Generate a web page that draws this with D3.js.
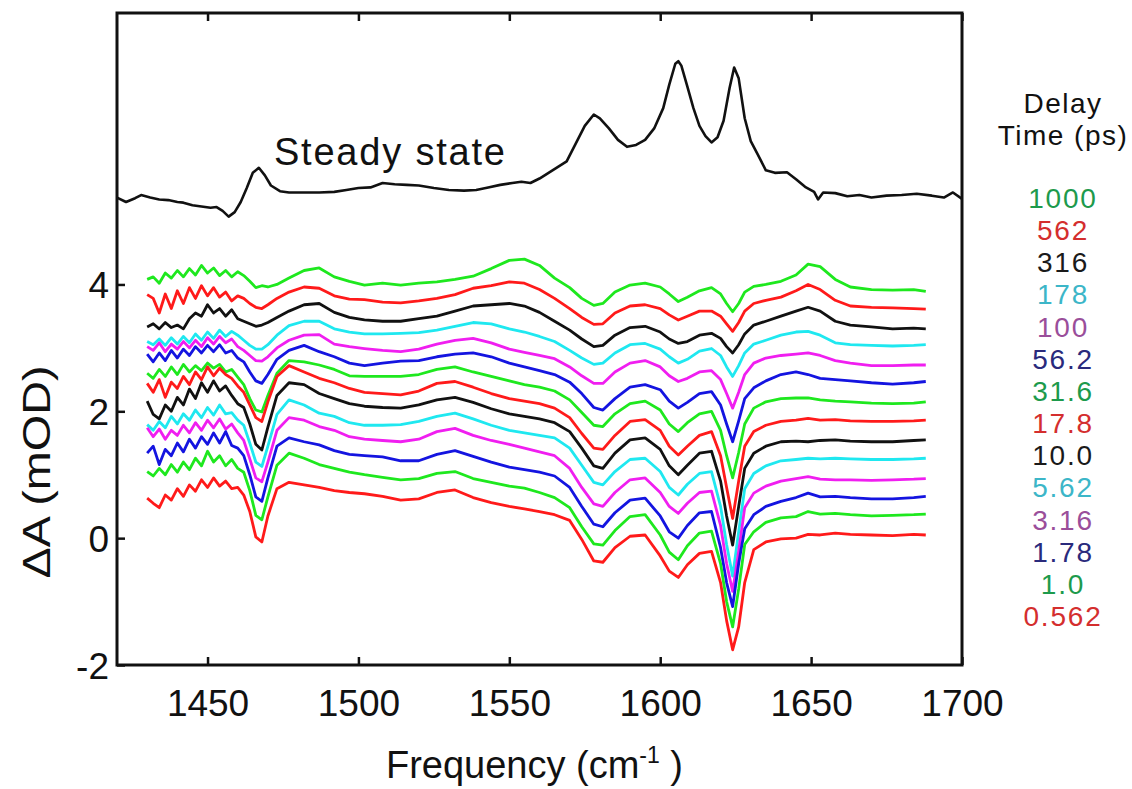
<!DOCTYPE html>
<html>
<head>
<meta charset="utf-8">
<script src="https://cdn.jsdelivr.net/npm/d3@7"></script>
<style>
  body { margin: 0; background: #fff; }
  svg text { font-family: "Liberation Sans", Arial, sans-serif; fill: #111; }
</style>
</head>
<body>
<svg id="chart" width="1132" height="789"></svg>
<script>
// frequency grid shared by the transient spectra (cm-1)
const freq = [1430,1432,1434,1436,1438,1440,1442,1444,1446,1448,1450,1452,1454,1456,1458,1460,1462,1464,1466,1468,1470,1473,1477,1482,1487,1492,1497,1502,1508,1514,1520,1526,1532,1538,1544,1550,1555,1560,1565,1570,1574,1578,1581,1585,1590,1595,1600,1603,1606,1609,1613,1617,1620,1622,1624,1626,1628,1631,1635,1640,1645,1649,1653,1658,1663,1670,1677,1684,1688];

// delay times (ps), top trace first
const delays = ["1000","562","316","178","100","56.2","31.6","17.8","10.0","5.62","3.16","1.78","1.0","0.562"];

// plotted dA (mOD, traces offset as in the figure)
const t1000 = [4.08,4.12,4.02,4.18,4.10,4.22,4.12,4.25,4.15,4.30,4.18,4.26,4.14,4.22,4.12,4.20,4.14,4.05,3.95,3.98,3.96,4.00,4.10,4.22,4.26,4.12,4.05,3.99,4.02,3.99,4.02,4.04,4.08,4.13,4.25,4.38,4.40,4.30,4.10,3.95,3.78,3.67,3.70,3.88,3.99,4.02,3.96,3.85,3.73,3.80,3.90,3.95,3.85,3.70,3.57,3.70,3.88,3.97,4.00,4.05,4.15,4.32,4.28,4.08,3.96,3.92,3.91,3.92,3.89];
const t562 = [3.84,3.78,3.55,3.85,3.62,3.90,3.70,3.95,3.78,3.98,3.82,3.95,3.80,3.88,3.74,3.82,3.78,3.70,3.64,3.62,3.68,3.78,3.88,3.96,3.94,3.82,3.77,3.76,3.72,3.71,3.74,3.78,3.84,3.94,3.98,4.04,4.02,3.92,3.78,3.62,3.48,3.37,3.38,3.55,3.66,3.68,3.62,3.52,3.44,3.50,3.58,3.58,3.50,3.38,3.26,3.40,3.58,3.70,3.75,3.80,3.90,4.00,3.92,3.75,3.66,3.64,3.63,3.62,3.61];
const t316 = [3.33,3.38,3.30,3.40,3.32,3.36,3.30,3.46,3.55,3.50,3.68,3.55,3.62,3.50,3.60,3.46,3.42,3.38,3.34,3.36,3.40,3.48,3.58,3.68,3.70,3.56,3.48,3.44,3.42,3.42,3.46,3.50,3.58,3.66,3.68,3.70,3.66,3.56,3.42,3.28,3.14,3.02,3.04,3.20,3.32,3.34,3.25,3.14,3.07,3.10,3.20,3.23,3.15,3.02,2.92,3.05,3.22,3.36,3.42,3.50,3.58,3.64,3.58,3.42,3.36,3.33,3.30,3.31,3.30];
const t178 = [3.10,3.05,3.14,3.04,3.16,3.06,3.18,3.08,3.22,3.12,3.25,3.15,3.28,3.18,3.26,3.20,3.12,3.04,2.98,2.98,3.05,3.20,3.35,3.42,3.42,3.30,3.25,3.22,3.22,3.23,3.24,3.28,3.34,3.40,3.38,3.30,3.25,3.18,3.10,2.96,2.84,2.74,2.76,2.92,3.05,3.07,2.98,2.86,2.76,2.82,2.95,2.99,2.88,2.70,2.55,2.72,2.92,3.06,3.12,3.20,3.25,3.26,3.20,3.08,3.05,3.04,3.03,3.04,3.05];
const t100 = [3.02,2.96,3.08,2.94,3.06,2.98,3.10,3.00,3.12,3.02,3.16,3.06,3.18,3.08,3.14,3.02,2.96,2.88,2.80,2.79,2.86,3.00,3.12,3.20,3.21,3.06,3.02,2.99,2.96,2.94,2.98,3.06,3.12,3.15,3.08,2.98,2.93,2.88,2.83,2.70,2.56,2.44,2.44,2.62,2.76,2.80,2.70,2.56,2.47,2.52,2.62,2.64,2.50,2.28,2.05,2.30,2.58,2.76,2.84,2.88,2.90,2.92,2.88,2.80,2.76,2.72,2.72,2.73,2.73];
const t56 = [2.90,2.78,2.92,2.80,2.96,2.84,2.98,2.88,3.02,2.92,3.04,2.94,3.05,2.92,2.96,2.84,2.78,2.62,2.48,2.44,2.58,2.82,2.96,3.04,2.94,2.86,2.76,2.72,2.76,2.79,2.80,2.86,2.90,2.92,2.86,2.76,2.70,2.64,2.58,2.46,2.28,2.06,2.02,2.20,2.38,2.42,2.34,2.16,2.05,2.14,2.28,2.31,2.10,1.80,1.52,1.85,2.20,2.37,2.48,2.58,2.62,2.58,2.52,2.50,2.48,2.45,2.43,2.45,2.47];
const t31 = [2.60,2.52,2.66,2.55,2.70,2.58,2.74,2.62,2.72,2.64,2.76,2.68,2.74,2.62,2.66,2.54,2.42,2.20,2.02,1.99,2.25,2.60,2.80,2.78,2.73,2.66,2.56,2.55,2.55,2.55,2.58,2.66,2.70,2.62,2.55,2.48,2.42,2.38,2.32,2.18,1.98,1.78,1.76,1.96,2.12,2.16,2.02,1.80,1.68,1.82,1.96,2.00,1.70,1.30,0.95,1.35,1.80,2.05,2.15,2.20,2.21,2.21,2.18,2.16,2.15,2.13,2.12,2.13,2.15];
const t17 = [2.44,2.30,2.50,2.22,2.46,2.36,2.55,2.42,2.62,2.50,2.70,2.56,2.68,2.58,2.52,2.40,2.30,2.10,1.90,1.84,2.15,2.55,2.72,2.62,2.52,2.45,2.36,2.30,2.28,2.26,2.32,2.44,2.47,2.38,2.28,2.20,2.16,2.12,2.05,1.90,1.65,1.42,1.40,1.62,1.84,1.87,1.70,1.45,1.31,1.45,1.62,1.68,1.30,0.80,0.31,0.90,1.45,1.68,1.78,1.84,1.86,1.89,1.86,1.87,1.85,1.84,1.84,1.85,1.86];
const t10 = [2.16,1.95,1.88,2.10,2.00,2.22,2.10,2.35,2.20,2.45,2.30,2.48,2.32,2.40,2.25,2.12,2.06,1.80,1.48,1.39,1.75,2.25,2.45,2.42,2.28,2.20,2.12,2.08,2.06,2.05,2.10,2.18,2.22,2.14,2.04,1.96,1.92,1.88,1.82,1.68,1.42,1.14,1.10,1.34,1.55,1.58,1.40,1.14,1.00,1.15,1.34,1.37,0.90,0.35,-0.11,0.50,1.10,1.34,1.45,1.52,1.53,1.52,1.54,1.55,1.53,1.52,1.52,1.54,1.55];
const t5_62 = [1.79,1.70,1.84,1.74,1.92,1.80,1.96,1.86,2.02,1.90,2.06,1.94,2.10,1.96,1.98,1.86,1.78,1.50,1.20,1.13,1.45,1.95,2.18,2.10,1.97,1.92,1.82,1.78,1.78,1.79,1.84,1.92,1.97,1.88,1.78,1.70,1.66,1.62,1.58,1.42,1.15,0.88,0.84,1.05,1.24,1.26,1.05,0.80,0.68,0.85,1.02,1.05,0.50,-0.10,-0.60,0.10,0.78,1.02,1.14,1.22,1.24,1.26,1.25,1.26,1.25,1.24,1.24,1.25,1.26];
const t3_16 = [1.74,1.60,1.72,1.56,1.70,1.62,1.78,1.66,1.82,1.70,1.86,1.74,1.88,1.72,1.80,1.66,1.54,1.25,0.95,0.89,1.20,1.70,1.90,1.86,1.76,1.70,1.60,1.56,1.54,1.52,1.56,1.68,1.73,1.62,1.54,1.48,1.42,1.36,1.30,1.10,0.80,0.54,0.50,0.72,0.92,0.95,0.72,0.50,0.39,0.55,0.72,0.74,0.20,-0.40,-0.84,-0.20,0.48,0.71,0.82,0.90,0.94,0.97,0.93,0.92,0.92,0.91,0.92,0.93,0.94];
const t1_78 = [1.34,1.45,1.16,1.40,1.30,1.50,1.36,1.56,1.42,1.60,1.48,1.66,1.50,1.68,1.46,1.42,1.30,1.00,0.65,0.58,0.95,1.45,1.58,1.52,1.47,1.38,1.32,1.30,1.28,1.22,1.22,1.32,1.38,1.29,1.20,1.12,1.08,1.04,0.98,0.80,0.50,0.22,0.18,0.40,0.60,0.63,0.35,0.10,0.00,0.20,0.40,0.42,-0.15,-0.70,-1.08,-0.40,0.15,0.37,0.50,0.58,0.64,0.71,0.65,0.66,0.64,0.62,0.62,0.64,0.66];
const t1_0 = [1.05,0.98,1.10,1.00,1.16,1.04,1.20,1.08,1.26,1.14,1.37,1.20,1.30,1.14,1.24,1.10,1.04,0.75,0.36,0.29,0.65,1.15,1.34,1.26,1.16,1.10,1.04,1.00,0.96,0.92,0.94,1.02,1.05,0.94,0.88,0.82,0.79,0.72,0.64,0.48,0.18,-0.09,-0.11,0.12,0.34,0.37,0.05,-0.22,-0.34,-0.12,0.08,0.11,-0.40,-1.00,-1.40,-0.80,-0.10,0.10,0.25,0.32,0.34,0.42,0.38,0.39,0.37,0.35,0.36,0.37,0.38];
const t0_562 = [0.63,0.55,0.48,0.68,0.60,0.78,0.66,0.84,0.74,0.92,0.80,0.95,0.82,0.90,0.78,0.80,0.68,0.42,0.02,-0.06,0.35,0.78,0.88,0.84,0.80,0.75,0.72,0.70,0.66,0.60,0.62,0.72,0.76,0.64,0.56,0.50,0.46,0.42,0.37,0.28,-0.02,-0.36,-0.38,-0.15,0.03,0.05,-0.28,-0.52,-0.62,-0.42,-0.24,-0.21,-0.70,-1.30,-1.76,-1.40,-0.70,-0.18,-0.06,-0.01,0.00,0.06,0.05,0.08,0.06,0.05,0.04,0.06,0.05];

// steady-state absorption, scaled onto the same axis
const steadyFreq = [1420,1423,1426,1428,1431,1434,1437,1440,1442,1445,1448,1451,1453,1455,1457,1459,1461,1463,1465,1467,1469,1471,1474,1477,1482,1487,1492,1496,1500,1504,1508,1512,1516,1520,1525,1530,1535,1539,1543,1547,1551,1554,1557,1560,1563,1566,1569,1572,1575,1578,1580,1583,1586,1589,1592,1595,1598,1601,1603,1605,1606,1607,1609,1611,1613,1615,1617,1619,1621,1623,1624.5,1626,1628,1630,1632,1635,1638,1642,1645,1648,1651,1652.3,1654,1658,1662,1666,1670,1675,1680,1685,1690,1694,1697,1700];
const steadyVals = [5.37,5.30,5.36,5.41,5.37,5.34,5.33,5.30,5.29,5.25,5.23,5.21,5.22,5.16,5.07,5.14,5.30,5.52,5.76,5.84,5.72,5.56,5.47,5.45,5.45,5.45,5.46,5.49,5.52,5.53,5.60,5.58,5.57,5.56,5.52,5.49,5.48,5.49,5.53,5.57,5.60,5.62,5.60,5.67,5.76,5.85,5.94,6.22,6.50,6.68,6.62,6.46,6.28,6.17,6.20,6.28,6.46,6.78,7.15,7.48,7.52,7.45,7.12,6.78,6.50,6.34,6.24,6.32,6.58,7.10,7.42,7.25,6.62,6.26,6.08,5.80,5.76,5.77,5.66,5.54,5.46,5.34,5.45,5.44,5.39,5.41,5.37,5.40,5.41,5.43,5.40,5.37,5.45,5.35];

const xTicks = [1450, 1500, 1550, 1600, 1650, 1700];
const yTicks = [-2, 0, 2, 4];

const traces = [t1000, t562, t316, t178, t100, t56, t31, t17, t10, t5_62, t3_16, t1_78, t1_0, t0_562];
const lineColors = ["#1ee81e","#ff1a1a","#111111","#1fe8f0","#f01ef0","#1414e0","#1ee81e","#ff1a1a","#111111","#1fe8f0","#f01ef0","#1414e0","#1ee81e","#ff1a1a"];
const labelColors = ["#1d9a4c","#d42e2e","#1a1a1a","#3cb6c8","#9a4e9a","#2a2a7c","#1d9a4c","#d42e2e","#1a1a1a","#3cb6c8","#9a4e9a","#2a2a7c","#1d9a4c","#d42e2e"];

const margin = {left: 117, top: 13, right: 170, bottom: 124};
const width = 1132 - margin.left - margin.right;
const height = 789 - margin.top - margin.bottom;

const svg = d3.select("#chart");
const g = svg.append("g").attr("transform", `translate(${margin.left},${margin.top})`);

const x = d3.scaleLinear().domain([1420, 1700]).range([0, width]);
const y = d3.scaleLinear().domain([-2, 8.28]).range([height, 0]);

const line = d3.line().x(d => x(d[0])).y(d => y(d[1]));

g.append("path")
  .datum(d3.zip(steadyFreq, steadyVals))
  .attr("fill", "none")
  .attr("stroke", "#111")
  .attr("stroke-width", 2.6)
  .attr("stroke-linejoin", "round")
  .attr("d", line);

traces.forEach((vals, i) => {
  g.append("path")
    .datum(d3.zip(freq, vals))
    .attr("fill", "none")
    .attr("stroke", lineColors[i])
    .attr("stroke-width", 2.8)
    .attr("stroke-linejoin", "round")
    .attr("d", line);
});

// axes, ticks pointing inward
const xAxis = g.append("g")
  .attr("transform", `translate(0,${height})`)
  .call(d3.axisBottom(x).tickValues(xTicks).tickFormat(d3.format("d"))
    .tickSizeInner(-8).tickSizeOuter(0).tickPadding(25));
const xTop = g.append("g")
  .call(d3.axisTop(x).tickValues(xTicks).tickSizeInner(-8).tickSizeOuter(0).tickFormat(""));
const yAxis = g.append("g")
  .call(d3.axisLeft(y).tickValues(yTicks).tickFormat(d => String(d))
    .tickSizeInner(-8).tickSizeOuter(0).tickPadding(8));

[xAxis, xTop, yAxis].forEach(a => {
  a.select(".domain").remove();
  a.selectAll("line").attr("stroke", "#111").attr("stroke-width", 2.5);
});
xAxis.selectAll("text").style("font-size", "37px").attr("fill", "#111");
yAxis.selectAll("text").style("font-size", "37px").attr("fill", "#111").attr("dy", "0.36em");

g.append("rect")
  .attr("width", width).attr("height", height)
  .attr("fill", "none").attr("stroke", "#111").attr("stroke-width", 3);

g.append("text")
  .attr("x", x(1472)).attr("y", y(5.89))
  .style("font-size", "38px").style("letter-spacing", "1.8px")
  .text("Steady state");

const xTitle = svg.append("text")
  .attr("x", margin.left + width / 2 - 5).attr("y", 778)
  .attr("text-anchor", "middle").style("font-size", "38px");
xTitle.append("tspan").text("Frequency (cm");
xTitle.append("tspan").attr("dy", -15).style("font-size", "23px").text("-1");
xTitle.append("tspan").attr("dy", 15).text(" )");

svg.append("text")
  .attr("transform", `translate(50,472) rotate(-90) scale(1.2,1)`)
  .attr("text-anchor", "middle").style("font-size", "39px")
  .text("\u0394A (mOD)");

// delay-time legend
const legX = 1063;
svg.append("text").attr("x", legX).attr("y", 113).attr("text-anchor", "middle")
  .style("font-size", "28px").style("letter-spacing", "1.5px").text("Delay");
svg.append("text").attr("x", legX).attr("y", 145).attr("text-anchor", "middle")
  .style("font-size", "28px").style("letter-spacing", "1.5px").text("Time (ps)");
svg.append("g").selectAll("text")
  .data(delays)
  .join("text")
  .attr("x", legX)
  .attr("y", (d, i) => 208 + i * 32.15)
  .attr("text-anchor", "middle")
  .style("font-size", "28px")
  .style("letter-spacing", "1.8px")
  .style("fill", (d, i) => labelColors[i])
  .text(d => d);
</script>
</body>
</html>
